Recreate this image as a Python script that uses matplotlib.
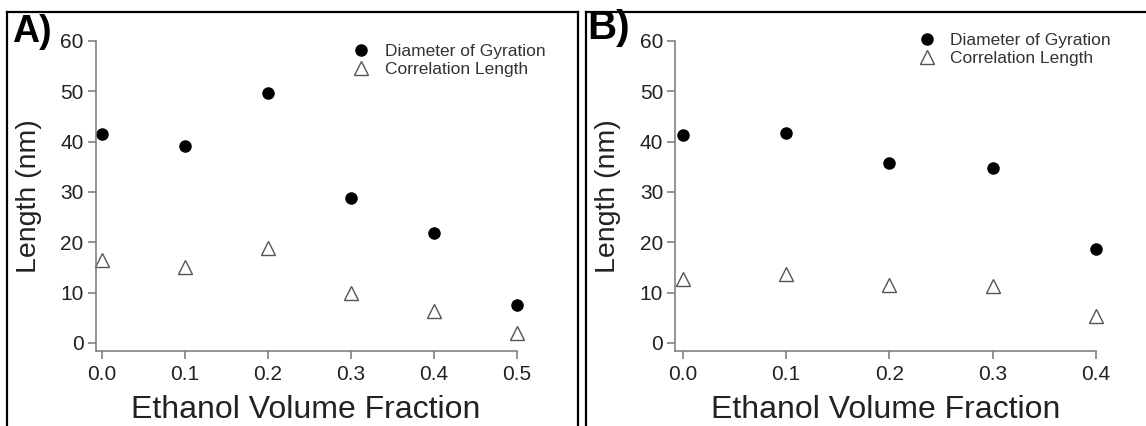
import matplotlib
matplotlib.use("Agg")
from matplotlib import pyplot as plt
from matplotlib.lines import Line2D

plt.rcParams['font.family'] = ['Liberation Sans', 'DejaVu Sans']

# panel A data
fracA = [0.0, 0.1, 0.2, 0.3, 0.4, 0.5]
gyrA = [41.5, 39.2, 49.6, 28.9, 21.8, 7.6]
corrA = [16.5, 15.0, 18.9, 10.0, 6.3, 2.0]

# panel B data
fracB = [0.0, 0.1, 0.2, 0.3, 0.4]
gyrB = [41.4, 41.7, 35.7, 34.8, 18.7]
corrB = [12.7, 13.8, 11.5, 11.3, 5.4]

yticks = [0, 10, 20, 30, 40, 50, 60]
W, H = 1146, 426


#sets up one panel the way the igor style plot looks
def panel(ax, frac, gyr, corr, xmax, legpos):
    ax.plot(frac, gyr, 'o', color='black', ms=8, clip_on=False,
            label='Diameter of Gyration')
    ax.plot(frac, corr, '^', mfc='white', mec='#555555', mew=1.0, ms=9.5,
            clip_on=False, label='Correlation Length')
    ax.set_xlim(-0.0075, xmax)
    ax.set_ylim(-1.5, 60)
    ax.set_yticks(yticks)
    ax.set_xticks(frac)
    ax.set_xticklabels(['%.1f' % f for f in frac])
    for s in ['top', 'right']:
        ax.spines[s].set_visible(False)
    for s in ['left', 'bottom']:
        ax.spines[s].set_color('#777777')
        ax.spines[s].set_linewidth(1.1)
    ax.tick_params(axis='both', colors='#777777', labelcolor='#222222',
                   labelsize=15, length=5.5, width=1.1)
    ax.tick_params(axis='x', pad=5)
    ax.tick_params(axis='y', pad=3)
    ax.set_ylabel('Length (nm)', fontsize=20.5, color='#222222')
    ax.set_xlabel('Ethanol Volume Fraction', fontsize=23, color='#222222')
    ax.yaxis.set_label_coords(-0.128, 0.5)
    ax.xaxis.set_label_coords(0.5, -0.145)
    leg = ax.legend(loc='upper left', bbox_to_anchor=legpos, frameon=False,
                    fontsize=12.5, borderpad=0, borderaxespad=0,
                    handlelength=1.0, handletextpad=0.85, labelspacing=0.2)
    for t in leg.get_texts():
        t.set_color('#333333')


def frame_line(fig, x0, y0, x1, y1):
    fig.add_artist(Line2D([x0 / W, x1 / W], [1 - y0 / H, 1 - y1 / H],
                          transform=fig.transFigure, color='black', lw=1.6))


def main():
    fig = plt.figure(figsize=(W / 100, H / 100), dpi=100)

    axA = fig.add_axes([95.5 / W, (H - 350.5) / H, 421.2 / W, 309.5 / H])
    axB = fig.add_axes([675 / W, (H - 350.5) / H, 421 / W, 309.5 / H])

    panel(axA, fracA, gyrA, corrA, 0.5, (0.610, 0.992))
    panel(axB, fracB, gyrB, corrB, 0.4, (0.577, 1.027))

    #the boxes round each panel
    frame_line(fig, 7, 12, 578, 12)
    frame_line(fig, 7, 12, 7, 430)
    frame_line(fig, 578, 12, 578, 430)
    frame_line(fig, 586, 12, 1150, 12)
    frame_line(fig, 586, 12, 586, 430)

    fig.text(12 / W, 1 - 14 / H, 'A)', fontsize=27, fontweight='bold',
             va='top', ha='left', color='black')
    fig.text(587 / W, 1 - 9 / H, 'B)', fontsize=29, fontweight='bold',
             va='top', ha='left', color='black')

    fig.savefig('out.png', dpi=100)


if __name__ == "__main__":
    main()
